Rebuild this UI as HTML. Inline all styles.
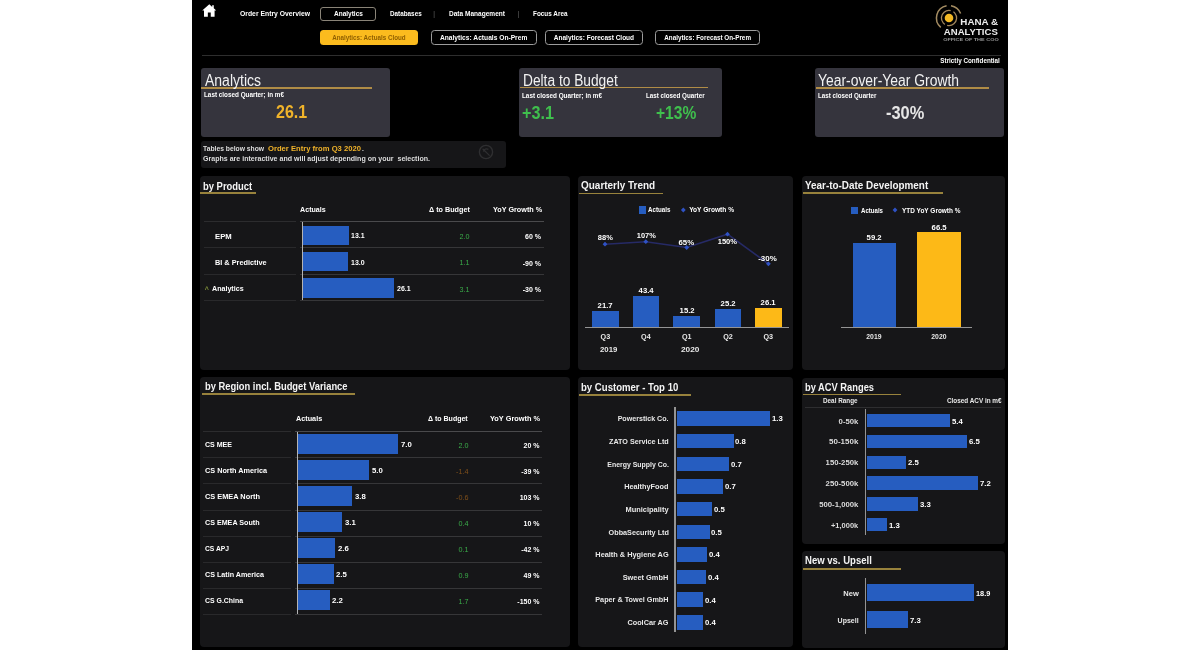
<!DOCTYPE html>
<html><head><meta charset="utf-8"><title>Analytics Dashboard</title>
<style>
html,body{margin:0;padding:0;background:#fff;}
body{width:1200px;height:650px;position:relative;overflow:hidden;font-family:"Liberation Sans", sans-serif;}
#d div,#d span,#d svg{position:absolute;}
#d span{white-space:pre;line-height:1;font-family:"Liberation Sans", sans-serif;}
#d{position:absolute;left:0;top:0;width:1200px;height:650px;filter:blur(0.75px);}
</style></head><body><div id="d">
<div style="left:192.0px;top:-20.0px;width:816.4px;height:710.0px;background:#000;border-radius:0px;"></div>
<svg style="left:201.8px;top:3.9px" width="14.6" height="13.5" viewBox="0 0 14 13"><path d="M7 0.3 L0.2 6.3 L1.9 6.3 L1.9 12.3 L5.6 12.3 L5.6 8.2 L8.4 8.2 L8.4 12.3 L12.1 12.3 L12.1 6.3 L13.8 6.3 L11.3 4.1 L11.3 1.2 L9.8 1.2 L9.8 2.8 Z" fill="#fff"/></svg>
<div style="left:320.0px;top:7.0px;width:56.0px;height:14.0px;background:transparent;border-radius:3px;border:1px solid #8a8478;box-sizing:border-box;"></div>
<div style="left:320.0px;top:30.3px;width:97.5px;height:14.4px;background:#fbbb1e;border-radius:3.5px;"></div>
<div style="left:431.3px;top:30.3px;width:105.4px;height:14.4px;background:transparent;border-radius:3.5px;border:1px solid #9c9c9c;box-sizing:border-box;"></div>
<div style="left:545.0px;top:30.3px;width:98.3px;height:14.4px;background:transparent;border-radius:3.5px;border:1px solid #9c9c9c;box-sizing:border-box;"></div>
<div style="left:655.0px;top:30.3px;width:104.7px;height:14.4px;background:transparent;border-radius:3.5px;border:1px solid #9c9c9c;box-sizing:border-box;"></div>
<div style="left:201.7px;top:54.9px;width:799.1px;height:0.9px;background:#2e2e2e;border-radius:0px;"></div>
<svg style="left:933.2px;top:2.1px" width="32" height="32" viewBox="-16 -16 32 32">
<circle cx="0" cy="0" r="4.3" fill="#f2b824"/>
<circle cx="0" cy="0" r="7.6" fill="none" stroke="#a2865a" stroke-width="1.3" stroke-dasharray="19 2.5 21 3" transform="rotate(-40)"/>
<path d="M -8.2 9.4 A 12.4 12.4 0 0 1 -2.4 -12.2" fill="none" stroke="#a48c62" stroke-width="1.5"/>
<path d="M 2 -12.3 A 12.4 12.4 0 0 1 11.6 -4.4" fill="none" stroke="#a48c62" stroke-width="1.5"/>
</svg>
<div style="left:200.9px;top:67.6px;width:189.1px;height:69.5px;background:#35343d;border-radius:3px;"></div>
<div style="left:518.6px;top:67.6px;width:203.8px;height:69.5px;background:#35343d;border-radius:3px;"></div>
<div style="left:815.0px;top:67.6px;width:188.8px;height:69.5px;background:#35343d;border-radius:3px;"></div>
<div style="left:201.4px;top:87.2px;width:170.6px;height:1.7px;background:#b08c46;border-radius:0px;"></div>
<div style="left:519.6px;top:86.5px;width:188.2px;height:1.7px;background:#b08c46;border-radius:0px;"></div>
<div style="left:816.3px;top:87.0px;width:172.5px;height:1.7px;background:#b08c46;border-radius:0px;"></div>
<div style="left:200.5px;top:140.6px;width:305.3px;height:27.0px;background:#161618;border-radius:3px;"></div>
<svg style="left:477.7px;top:144.4px" width="16" height="16" viewBox="-8 -8 16 16"><circle r="6.6" fill="none" stroke="#2f2f31" stroke-width="1.4"/><path d="M-3.4 -3.2 L3.6 3.6 M-2.6 -0.4 A 3.2 3.2 0 0 1 2.4 -2.6" stroke="#2f2f31" stroke-width="1.3" fill="none"/></svg>
<div style="left:200.4px;top:176.4px;width:369.6px;height:194.0px;background:#161618;border-radius:4px;"></div>
<div style="left:200.3px;top:192.1px;width:55.5px;height:1.7px;background:#98823c;border-radius:0px;"></div>
<div style="left:577.6px;top:176.0px;width:215.8px;height:194.4px;background:#161618;border-radius:4px;"></div>
<div style="left:579.0px;top:192.5px;width:83.5px;height:1.7px;background:#98823c;border-radius:0px;"></div>
<div style="left:802.0px;top:176.0px;width:202.8px;height:194.2px;background:#161618;border-radius:4px;"></div>
<div style="left:802.6px;top:192.2px;width:140.4px;height:1.7px;background:#98823c;border-radius:0px;"></div>
<div style="left:200.4px;top:376.6px;width:369.6px;height:270.6px;background:#161618;border-radius:4px;"></div>
<div style="left:201.7px;top:393.1px;width:153.3px;height:1.7px;background:#98823c;border-radius:0px;"></div>
<div style="left:578.4px;top:377.4px;width:215.0px;height:269.8px;background:#161618;border-radius:4px;"></div>
<div style="left:579.2px;top:394.1px;width:111.6px;height:1.7px;background:#98823c;border-radius:0px;"></div>
<div style="left:802.0px;top:377.8px;width:202.8px;height:166.0px;background:#161618;border-radius:4px;"></div>
<div style="left:803.0px;top:393.8px;width:97.8px;height:1.7px;background:#98823c;border-radius:0px;"></div>
<div style="left:802.0px;top:551.2px;width:202.8px;height:96.4px;background:#161618;border-radius:4px;"></div>
<div style="left:803.0px;top:567.9px;width:98.0px;height:1.7px;background:#98823c;border-radius:0px;"></div>
<div style="left:204.0px;top:221.2px;width:92.2px;height:1.0px;background:#2c2c2e;border-radius:0px;"></div>
<div style="left:300.2px;top:221.2px;width:243.8px;height:1.0px;background:#4a4a4c;border-radius:0px;"></div>
<div style="left:303.1px;top:225.7px;width:45.8px;height:19.6px;background:#265dc0;border-radius:0px;"></div>
<div style="left:204.0px;top:247.3px;width:92.2px;height:1.0px;background:#29292b;border-radius:0px;"></div>
<div style="left:300.2px;top:247.3px;width:243.8px;height:1.0px;background:#363638;border-radius:0px;"></div>
<div style="left:303.1px;top:251.8px;width:45.4px;height:19.6px;background:#265dc0;border-radius:0px;"></div>
<div style="left:204.0px;top:273.5px;width:92.2px;height:1.0px;background:#29292b;border-radius:0px;"></div>
<div style="left:300.2px;top:273.5px;width:243.8px;height:1.0px;background:#363638;border-radius:0px;"></div>
<div style="left:303.1px;top:278.0px;width:91.2px;height:19.6px;background:#265dc0;border-radius:0px;"></div>
<div style="left:204.0px;top:299.6px;width:92.2px;height:1.0px;background:#29292b;border-radius:0px;"></div>
<div style="left:300.2px;top:299.6px;width:243.8px;height:1.0px;background:#363638;border-radius:0px;"></div>
<div style="left:301.6px;top:221.7px;width:1.2px;height:78.4px;background:#b4b4b4;border-radius:0px;"></div>
<div style="left:203.0px;top:431.2px;width:88.3px;height:1.0px;background:#2c2c2e;border-radius:0px;"></div>
<div style="left:295.3px;top:431.2px;width:246.4px;height:1.0px;background:#4a4a4c;border-radius:0px;"></div>
<div style="left:298.2px;top:433.8px;width:99.8px;height:19.9px;background:#265dc0;border-radius:0px;"></div>
<div style="left:203.0px;top:457.3px;width:88.3px;height:1.0px;background:#29292b;border-radius:0px;"></div>
<div style="left:295.3px;top:457.3px;width:246.4px;height:1.0px;background:#363638;border-radius:0px;"></div>
<div style="left:298.2px;top:459.9px;width:71.2px;height:19.9px;background:#265dc0;border-radius:0px;"></div>
<div style="left:203.0px;top:483.4px;width:88.3px;height:1.0px;background:#29292b;border-radius:0px;"></div>
<div style="left:295.3px;top:483.4px;width:246.4px;height:1.0px;background:#363638;border-radius:0px;"></div>
<div style="left:298.2px;top:486.0px;width:54.1px;height:19.9px;background:#265dc0;border-radius:0px;"></div>
<div style="left:203.0px;top:509.5px;width:88.3px;height:1.0px;background:#29292b;border-radius:0px;"></div>
<div style="left:295.3px;top:509.5px;width:246.4px;height:1.0px;background:#363638;border-radius:0px;"></div>
<div style="left:298.2px;top:512.1px;width:44.2px;height:19.9px;background:#265dc0;border-radius:0px;"></div>
<div style="left:203.0px;top:535.6px;width:88.3px;height:1.0px;background:#29292b;border-radius:0px;"></div>
<div style="left:295.3px;top:535.6px;width:246.4px;height:1.0px;background:#363638;border-radius:0px;"></div>
<div style="left:298.2px;top:538.2px;width:37.1px;height:19.9px;background:#265dc0;border-radius:0px;"></div>
<div style="left:203.0px;top:561.7px;width:88.3px;height:1.0px;background:#29292b;border-radius:0px;"></div>
<div style="left:295.3px;top:561.7px;width:246.4px;height:1.0px;background:#363638;border-radius:0px;"></div>
<div style="left:298.2px;top:564.3px;width:35.6px;height:19.9px;background:#265dc0;border-radius:0px;"></div>
<div style="left:203.0px;top:587.8px;width:88.3px;height:1.0px;background:#29292b;border-radius:0px;"></div>
<div style="left:295.3px;top:587.8px;width:246.4px;height:1.0px;background:#363638;border-radius:0px;"></div>
<div style="left:298.2px;top:590.4px;width:31.4px;height:19.9px;background:#265dc0;border-radius:0px;"></div>
<div style="left:203.0px;top:613.9px;width:88.3px;height:1.0px;background:#29292b;border-radius:0px;"></div>
<div style="left:295.3px;top:613.9px;width:246.4px;height:1.0px;background:#363638;border-radius:0px;"></div>
<div style="left:296.7px;top:431.7px;width:1.2px;height:182.7px;background:#b4b4b4;border-radius:0px;"></div>
<div style="left:638.7px;top:206.3px;width:7.1px;height:7.4px;background:#265dc0;border-radius:0px;"></div>
<svg style="left:577px;top:176px" width="217" height="195" viewBox="577 176 217 195"><polyline points="605,244.2 645.8,241.7 686.7,247.5 727.5,234.2 768.4,263.8" fill="none" stroke="#262a66" stroke-width="1.6"/><path d="M605 241.79999999999998 L607.4 244.2 L605 246.6 L602.6 244.2 Z" fill="#2f52c4"/><path d="M645.8 239.29999999999998 L648.1999999999999 241.7 L645.8 244.1 L643.4 241.7 Z" fill="#2f52c4"/><path d="M686.7 245.1 L689.1 247.5 L686.7 249.9 L684.3000000000001 247.5 Z" fill="#2f52c4"/><path d="M727.5 231.79999999999998 L729.9 234.2 L727.5 236.6 L725.1 234.2 Z" fill="#2f52c4"/><path d="M768.4 261.40000000000003 L770.8 263.8 L768.4 266.2 L766.0 263.8 Z" fill="#2f52c4"/><path d="M683.3 207.6 L685.6999999999999 210 L683.3 212.4 L680.9 210 Z" fill="#2f52c4"/></svg>
<div style="left:592.0px;top:311.1px;width:26.9px;height:15.5px;background:#265dc0;border-radius:0px;"></div>
<div style="left:632.5px;top:295.5px;width:26.9px;height:31.1px;background:#265dc0;border-radius:0px;"></div>
<div style="left:673.3px;top:315.7px;width:26.9px;height:10.9px;background:#265dc0;border-radius:0px;"></div>
<div style="left:714.6px;top:308.6px;width:26.9px;height:18.0px;background:#265dc0;border-radius:0px;"></div>
<div style="left:754.8px;top:307.9px;width:26.9px;height:18.7px;background:#fdb917;border-radius:0px;"></div>
<div style="left:585.0px;top:326.5px;width:203.5px;height:1.3px;background:#949494;border-radius:0px;"></div>
<div style="left:851.0px;top:206.6px;width:6.8px;height:7.2px;background:#265dc0;border-radius:0px;"></div>
<svg style="left:892px;top:207px" width="6" height="6" viewBox="-3 -3 6 6"><path d="M0 -2.4 L2.4 0 L0 2.4 L-2.4 0 Z" fill="#2f52c4"/></svg>
<div style="left:852.5px;top:242.8px;width:43.5px;height:84.2px;background:#265dc0;border-radius:0px;"></div>
<div style="left:917.0px;top:232.3px;width:43.6px;height:94.7px;background:#fdb917;border-radius:0px;"></div>
<div style="left:841.0px;top:326.8px;width:130.7px;height:1.3px;background:#949494;border-radius:0px;"></div>
<div style="left:676.6px;top:411.2px;width:93.3px;height:14.6px;background:#265dc0;border-radius:0px;"></div>
<div style="left:676.6px;top:433.8px;width:57.0px;height:14.6px;background:#265dc0;border-radius:0px;"></div>
<div style="left:676.6px;top:456.5px;width:52.5px;height:14.6px;background:#265dc0;border-radius:0px;"></div>
<div style="left:676.6px;top:479.1px;width:46.3px;height:14.6px;background:#265dc0;border-radius:0px;"></div>
<div style="left:676.6px;top:501.8px;width:35.6px;height:14.6px;background:#265dc0;border-radius:0px;"></div>
<div style="left:676.6px;top:524.5px;width:33.0px;height:14.6px;background:#265dc0;border-radius:0px;"></div>
<div style="left:676.6px;top:547.1px;width:30.4px;height:14.6px;background:#265dc0;border-radius:0px;"></div>
<div style="left:676.6px;top:569.8px;width:29.6px;height:14.6px;background:#265dc0;border-radius:0px;"></div>
<div style="left:676.6px;top:592.4px;width:26.4px;height:14.6px;background:#265dc0;border-radius:0px;"></div>
<div style="left:676.6px;top:615.0px;width:26.4px;height:14.6px;background:#265dc0;border-radius:0px;"></div>
<div style="left:674.4px;top:407.4px;width:1.4px;height:224.9px;background:#949494;border-radius:0px;"></div>
<div style="left:805.0px;top:406.6px;width:196.0px;height:0.7px;background:#2e2e30;border-radius:0px;"></div>
<div style="left:867.0px;top:414.0px;width:83.4px;height:13.4px;background:#265dc0;border-radius:0px;"></div>
<div style="left:867.0px;top:434.8px;width:100.4px;height:13.4px;background:#265dc0;border-radius:0px;"></div>
<div style="left:867.0px;top:455.6px;width:38.6px;height:13.4px;background:#265dc0;border-radius:0px;"></div>
<div style="left:867.0px;top:476.4px;width:111.2px;height:13.4px;background:#265dc0;border-radius:0px;"></div>
<div style="left:867.0px;top:497.2px;width:51.0px;height:13.4px;background:#265dc0;border-radius:0px;"></div>
<div style="left:867.0px;top:518.0px;width:20.1px;height:13.4px;background:#265dc0;border-radius:0px;"></div>
<div style="left:864.6px;top:409.0px;width:1.4px;height:125.6px;background:#949494;border-radius:0px;"></div>
<div style="left:867.0px;top:584.2px;width:107.2px;height:17.3px;background:#265dc0;border-radius:0px;"></div>
<div style="left:867.0px;top:611.2px;width:41.4px;height:17.0px;background:#265dc0;border-radius:0px;"></div>
<div style="left:864.7px;top:578.4px;width:1.4px;height:55.4px;background:#949494;border-radius:0px;"></div>
<span style="left:240.00px;top:10.29px;font-size:7.4px;font-weight:700;color:#fff;transform:scaleX(0.9211);transform-origin:0 50%;">Order Entry Overview</span>
<span style="left:331.56px;top:10.29px;font-size:7.4px;font-weight:700;color:#fff;transform:scaleX(0.8821);transform-origin:50% 50%;">Analytics</span>
<span style="left:390.00px;top:10.29px;font-size:7.4px;font-weight:700;color:#fff;transform:scaleX(0.8571);transform-origin:0 50%;">Databases</span>
<span style="left:433.15px;top:10.72px;font-size:6.5px;font-weight:400;color:#6a6a6a;">|</span>
<span style="left:448.70px;top:10.29px;font-size:7.4px;font-weight:700;color:#fff;transform:scaleX(0.8854);transform-origin:0 50%;">Data Management</span>
<span style="left:517.45px;top:10.72px;font-size:6.5px;font-weight:400;color:#6a6a6a;">|</span>
<span style="left:533.00px;top:10.29px;font-size:7.4px;font-weight:700;color:#fff;transform:scaleX(0.8628);transform-origin:0 50%;">Focus Area</span>
<span style="left:328.69px;top:34.78px;font-size:6.8px;font-weight:700;color:#8f5f00;transform:scaleX(0.9207);transform-origin:50% 50%;">Analytics: Actuals Cloud</span>
<span style="left:439.37px;top:34.78px;font-size:6.8px;font-weight:700;color:#fff;transform:scaleX(0.9791);transform-origin:50% 50%;">Analytics: Actuals On-Prem</span>
<span style="left:552.22px;top:34.78px;font-size:6.8px;font-weight:700;color:#fff;transform:scaleX(0.9576);transform-origin:50% 50%;">Analytics: Forecast Cloud</span>
<span style="left:660.69px;top:34.78px;font-size:6.8px;font-weight:700;color:#fff;transform:scaleX(0.9291);transform-origin:50% 50%;">Analytics: Forecast On-Prem</span>
<span style="left:962.09px;top:17.01px;font-size:9.4px;font-weight:700;color:#ececec;transform:scaleX(1.0468);transform-origin:100% 50%;">HANA &amp;</span>
<span style="left:945.40px;top:26.81px;font-size:9.4px;font-weight:700;color:#ececec;transform:scaleX(1.0228);transform-origin:100% 50%;">ANALYTICS</span>
<span style="left:953.86px;top:38.05px;font-size:4.4px;font-weight:700;color:#9a9a9a;transform:scaleX(1.2433);transform-origin:100% 50%;">OFFICE OF THE COO</span>
<span style="left:929.46px;top:57.24px;font-size:7.5px;font-weight:700;color:#fff;transform:scaleX(0.8399);transform-origin:100% 50%;">Strictly Confidential</span>
<span style="left:205.00px;top:72.68px;font-size:16px;font-weight:400;color:#f2f2f2;transform:scaleX(0.8746);transform-origin:0 50%;">Analytics</span>
<span style="left:204.00px;top:92.17px;font-size:6.4px;font-weight:700;color:#fff;transform:scaleX(0.9922);transform-origin:0 50%;">Last closed Quarter; in m€</span>
<span style="left:276.00px;top:103.46px;font-size:18.5px;font-weight:700;color:#f0b32a;transform:scaleX(0.8663);transform-origin:0 50%;">26.1</span>
<span style="left:523.00px;top:72.68px;font-size:16px;font-weight:400;color:#f2f2f2;transform:scaleX(0.8586);transform-origin:0 50%;">Delta to Budget</span>
<span style="left:521.50px;top:92.57px;font-size:6.4px;font-weight:700;color:#fff;transform:scaleX(0.9922);transform-origin:0 50%;">Last closed Quarter; in m€</span>
<span style="left:646.00px;top:92.57px;font-size:6.4px;font-weight:700;color:#fff;transform:scaleX(0.9762);transform-origin:0 50%;">Last closed Quarter</span>
<span style="left:522.00px;top:104.65px;font-size:17.5px;font-weight:700;color:#3fbf4d;transform:scaleX(0.9259);transform-origin:0 50%;">+3.1</span>
<span style="left:655.70px;top:104.65px;font-size:17.5px;font-weight:700;color:#3fbf4d;transform:scaleX(0.8906);transform-origin:0 50%;">+13%</span>
<span style="left:818.20px;top:72.68px;font-size:16px;font-weight:400;color:#f2f2f2;transform:scaleX(0.8679);transform-origin:0 50%;">Year-over-Year Growth</span>
<span style="left:818.20px;top:92.57px;font-size:6.4px;font-weight:700;color:#fff;transform:scaleX(0.9745);transform-origin:0 50%;">Last closed Quarter</span>
<span style="left:886.30px;top:104.65px;font-size:17.5px;font-weight:700;color:#e6e6e6;transform:scaleX(0.9374);transform-origin:0 50%;">-30%</span>
<span style="left:202.50px;top:145.98px;font-size:6.6px;font-weight:700;color:#ddd;transform:scaleX(1.0254);transform-origin:0 50%;">Tables below show </span>
<span style="left:267.50px;top:145.98px;font-size:6.6px;font-weight:700;color:#f0b32a;transform:scaleX(1.1587);transform-origin:0 50%;">Order Entry from Q3 2020</span>
<span style="left:362.00px;top:145.98px;font-size:6.6px;font-weight:700;color:#ddd;">.</span>
<span style="left:202.50px;top:155.58px;font-size:6.6px;font-weight:700;color:#ddd;transform:scaleX(1.0700);transform-origin:0 50%;">Graphs are interactive and will adjust depending on your  selection.</span>
<span style="left:202.50px;top:180.62px;font-size:10.6px;font-weight:700;color:#f4f4f4;transform:scaleX(0.8892);transform-origin:0 50%;">by Product</span>
<span style="left:580.80px;top:180.22px;font-size:10.6px;font-weight:700;color:#f4f4f4;transform:scaleX(0.9405);transform-origin:0 50%;">Quarterly Trend</span>
<span style="left:805.30px;top:180.22px;font-size:10.6px;font-weight:700;color:#f4f4f4;transform:scaleX(0.9342);transform-origin:0 50%;">Year-to-Date Development</span>
<span style="left:205.00px;top:380.82px;font-size:10.6px;font-weight:700;color:#f4f4f4;transform:scaleX(0.8835);transform-origin:0 50%;">by Region incl. Budget Variance</span>
<span style="left:581.00px;top:381.62px;font-size:10.6px;font-weight:700;color:#f4f4f4;transform:scaleX(0.9049);transform-origin:0 50%;">by Customer - Top 10</span>
<span style="left:805.00px;top:382.02px;font-size:10.6px;font-weight:700;color:#f4f4f4;transform:scaleX(0.8790);transform-origin:0 50%;">by ACV Ranges</span>
<span style="left:805.00px;top:555.42px;font-size:10.6px;font-weight:700;color:#f4f4f4;transform:scaleX(0.9004);transform-origin:0 50%;">New vs. Upsell</span>
<span style="left:300.00px;top:207.38px;font-size:6.6px;font-weight:700;color:#fff;transform:scaleX(1.0828);transform-origin:0 50%;">Actuals</span>
<span style="left:429.20px;top:207.38px;font-size:6.6px;font-weight:700;color:#fff;transform:scaleX(1.0926);transform-origin:0 50%;">Δ to Budget</span>
<span style="left:492.50px;top:207.38px;font-size:6.6px;font-weight:700;color:#fff;transform:scaleX(1.0975);transform-origin:0 50%;">YoY Growth %</span>
<span style="left:215.00px;top:233.58px;font-size:6.6px;font-weight:700;color:#fff;transform:scaleX(1.1681);transform-origin:0 50%;">EPM</span>
<span style="left:351.48px;top:233.48px;font-size:6.8px;font-weight:700;color:#fff;transform:scaleX(1.0276);transform-origin:0 50%;">13.1</span>
<span style="left:459.50px;top:233.28px;font-size:7.2px;font-weight:400;color:#3aac49;">2.0</span>
<span style="left:525.03px;top:233.38px;font-size:7.0px;font-weight:700;color:#fff;">60 %</span>
<span style="left:215.00px;top:259.73px;font-size:6.6px;font-weight:700;color:#fff;transform:scaleX(1.1107);transform-origin:0 50%;">BI &amp; Predictive</span>
<span style="left:351.13px;top:259.63px;font-size:6.8px;font-weight:700;color:#fff;transform:scaleX(1.0276);transform-origin:0 50%;">13.0</span>
<span style="left:459.50px;top:259.43px;font-size:7.2px;font-weight:400;color:#3aac49;">1.1</span>
<span style="left:522.70px;top:259.53px;font-size:7.0px;font-weight:700;color:#fff;">-90 %</span>
<span style="left:211.70px;top:285.88px;font-size:6.6px;font-weight:700;color:#fff;transform:scaleX(1.0775);transform-origin:0 50%;">Analytics</span>
<span style="left:396.92px;top:285.78px;font-size:6.8px;font-weight:700;color:#fff;transform:scaleX(1.0276);transform-origin:0 50%;">26.1</span>
<span style="left:459.50px;top:285.58px;font-size:7.2px;font-weight:400;color:#3aac49;">3.1</span>
<span style="left:522.70px;top:285.68px;font-size:7.0px;font-weight:700;color:#fff;">-30 %</span>
<span style="left:204.75px;top:286.18px;font-size:7px;font-weight:700;color:#7f8f3a;">^</span>
<span style="left:296.30px;top:416.18px;font-size:6.6px;font-weight:700;color:#fff;transform:scaleX(1.0995);transform-origin:0 50%;">Actuals</span>
<span style="left:428.30px;top:416.18px;font-size:6.6px;font-weight:700;color:#fff;transform:scaleX(1.0631);transform-origin:0 50%;">Δ to Budget</span>
<span style="left:490.00px;top:416.18px;font-size:6.6px;font-weight:700;color:#fff;transform:scaleX(1.1154);transform-origin:0 50%;">YoY Growth %</span>
<span style="left:204.70px;top:441.83px;font-size:6.6px;font-weight:700;color:#fff;transform:scaleX(1.0680);transform-origin:0 50%;">CS MEE</span>
<span style="left:400.55px;top:441.73px;font-size:6.8px;font-weight:700;color:#fff;transform:scaleX(1.1425);transform-origin:0 50%;">7.0</span>
<span style="left:458.50px;top:441.53px;font-size:7.2px;font-weight:400;color:#3aac49;">2.0</span>
<span style="left:523.53px;top:441.63px;font-size:7.0px;font-weight:700;color:#fff;">20 %</span>
<span style="left:204.70px;top:467.93px;font-size:6.6px;font-weight:700;color:#fff;transform:scaleX(1.1034);transform-origin:0 50%;">CS North America</span>
<span style="left:372.05px;top:467.83px;font-size:6.8px;font-weight:700;color:#fff;transform:scaleX(1.1425);transform-origin:0 50%;">5.0</span>
<span style="left:456.11px;top:467.63px;font-size:7.2px;font-weight:400;color:#80501a;">-1.4</span>
<span style="left:521.20px;top:467.73px;font-size:7.0px;font-weight:700;color:#fff;">-39 %</span>
<span style="left:204.70px;top:494.03px;font-size:6.6px;font-weight:700;color:#fff;transform:scaleX(1.1175);transform-origin:0 50%;">CS EMEA North</span>
<span style="left:354.95px;top:493.93px;font-size:6.8px;font-weight:700;color:#fff;transform:scaleX(1.1425);transform-origin:0 50%;">3.8</span>
<span style="left:456.11px;top:493.73px;font-size:7.2px;font-weight:400;color:#80501a;">-0.6</span>
<span style="left:519.64px;top:493.83px;font-size:7.0px;font-weight:700;color:#fff;">103 %</span>
<span style="left:204.70px;top:520.13px;font-size:6.6px;font-weight:700;color:#fff;transform:scaleX(1.0832);transform-origin:0 50%;">CS EMEA South</span>
<span style="left:344.98px;top:520.03px;font-size:6.8px;font-weight:700;color:#fff;transform:scaleX(1.1425);transform-origin:0 50%;">3.1</span>
<span style="left:458.50px;top:519.83px;font-size:7.2px;font-weight:400;color:#3aac49;">0.4</span>
<span style="left:523.53px;top:519.93px;font-size:7.0px;font-weight:700;color:#fff;">10 %</span>
<span style="left:204.70px;top:546.23px;font-size:6.6px;font-weight:700;color:#fff;transform:scaleX(1.0179);transform-origin:0 50%;">CS APJ</span>
<span style="left:337.85px;top:546.13px;font-size:6.8px;font-weight:700;color:#fff;transform:scaleX(1.1425);transform-origin:0 50%;">2.6</span>
<span style="left:458.50px;top:545.93px;font-size:7.2px;font-weight:400;color:#3aac49;">0.1</span>
<span style="left:521.20px;top:546.03px;font-size:7.0px;font-weight:700;color:#fff;">-42 %</span>
<span style="left:204.70px;top:572.33px;font-size:6.6px;font-weight:700;color:#fff;transform:scaleX(1.0854);transform-origin:0 50%;">CS Latin America</span>
<span style="left:336.43px;top:572.23px;font-size:6.8px;font-weight:700;color:#fff;transform:scaleX(1.1425);transform-origin:0 50%;">2.5</span>
<span style="left:458.50px;top:572.03px;font-size:7.2px;font-weight:400;color:#3aac49;">0.9</span>
<span style="left:523.53px;top:572.13px;font-size:7.0px;font-weight:700;color:#fff;">49 %</span>
<span style="left:204.70px;top:598.43px;font-size:6.6px;font-weight:700;color:#fff;transform:scaleX(1.0474);transform-origin:0 50%;">CS G.China</span>
<span style="left:332.15px;top:598.33px;font-size:6.8px;font-weight:700;color:#fff;transform:scaleX(1.1425);transform-origin:0 50%;">2.2</span>
<span style="left:458.50px;top:598.13px;font-size:7.2px;font-weight:400;color:#3aac49;">1.7</span>
<span style="left:517.31px;top:598.23px;font-size:7.0px;font-weight:700;color:#fff;">-150 %</span>
<span style="left:648.30px;top:207.48px;font-size:6.6px;font-weight:700;color:#fff;transform:scaleX(0.9443);transform-origin:0 50%;">Actuals</span>
<span style="left:689.20px;top:207.48px;font-size:6.6px;font-weight:700;color:#fff;">YoY Growth %</span>
<span style="left:597.70px;top:234.43px;font-size:7.3px;font-weight:700;color:#fff;transform:scaleX(1.0267);transform-origin:50% 50%;">88%</span>
<span style="left:636.96px;top:232.03px;font-size:7.3px;font-weight:700;color:#fff;transform:scaleX(1.0176);transform-origin:50% 50%;">107%</span>
<span style="left:679.00px;top:238.83px;font-size:7.3px;font-weight:700;color:#fff;transform:scaleX(1.0678);transform-origin:50% 50%;">65%</span>
<span style="left:718.36px;top:238.03px;font-size:7.3px;font-weight:700;color:#fff;transform:scaleX(1.0336);transform-origin:50% 50%;">150%</span>
<span style="left:759.08px;top:254.53px;font-size:7.3px;font-weight:700;color:#fff;transform:scaleX(1.0911);transform-origin:50% 50%;">-30%</span>
<span style="left:598.30px;top:302.10px;font-size:7.3px;font-weight:700;color:#fff;transform:scaleX(1.0561);transform-origin:50% 50%;">21.7</span>
<span style="left:600.60px;top:332.98px;font-size:7.2px;font-weight:700;color:#e8e8e8;">Q3</span>
<span style="left:638.80px;top:286.56px;font-size:7.3px;font-weight:700;color:#fff;transform:scaleX(1.0561);transform-origin:50% 50%;">43.4</span>
<span style="left:641.10px;top:332.98px;font-size:7.2px;font-weight:700;color:#e8e8e8;">Q4</span>
<span style="left:679.60px;top:306.75px;font-size:7.3px;font-weight:700;color:#fff;transform:scaleX(1.0561);transform-origin:50% 50%;">15.2</span>
<span style="left:681.90px;top:332.98px;font-size:7.2px;font-weight:700;color:#e8e8e8;">Q1</span>
<span style="left:720.90px;top:299.59px;font-size:7.3px;font-weight:700;color:#fff;transform:scaleX(1.0561);transform-origin:50% 50%;">25.2</span>
<span style="left:723.20px;top:332.98px;font-size:7.2px;font-weight:700;color:#e8e8e8;">Q2</span>
<span style="left:761.10px;top:298.95px;font-size:7.3px;font-weight:700;color:#fff;transform:scaleX(1.0561);transform-origin:50% 50%;">26.1</span>
<span style="left:763.40px;top:332.98px;font-size:7.2px;font-weight:700;color:#e8e8e8;">Q3</span>
<span style="left:599.70px;top:346.58px;font-size:6.8px;font-weight:700;color:#e8e8e8;transform:scaleX(1.1438);transform-origin:0 50%;">2019</span>
<span style="left:681.00px;top:346.58px;font-size:6.8px;font-weight:700;color:#e8e8e8;transform:scaleX(1.2165);transform-origin:0 50%;">2020</span>
<span style="left:860.50px;top:207.68px;font-size:6.6px;font-weight:700;color:#fff;transform:scaleX(0.9233);transform-origin:0 50%;">Actuals</span>
<span style="left:901.70px;top:207.68px;font-size:6.6px;font-weight:700;color:#fff;transform:scaleX(0.9796);transform-origin:0 50%;">YTD YoY Growth %</span>
<span style="left:866.70px;top:234.03px;font-size:7.3px;font-weight:700;color:#fff;transform:scaleX(1.0561);transform-origin:50% 50%;">59.2</span>
<span style="left:931.80px;top:223.93px;font-size:7.3px;font-weight:700;color:#fff;transform:scaleX(1.0561);transform-origin:50% 50%;">66.5</span>
<span style="left:866.34px;top:333.78px;font-size:6.8px;font-weight:700;color:#e8e8e8;">2019</span>
<span style="left:931.34px;top:333.78px;font-size:6.8px;font-weight:700;color:#e8e8e8;">2020</span>
<span style="left:617.17px;top:415.28px;font-size:7.2px;font-weight:700;color:#e8e8e8;transform:scaleX(0.9878);transform-origin:100% 50%;">Powerstick Co.</span>
<span style="left:771.70px;top:415.48px;font-size:7.2px;font-weight:700;color:#fff;transform:scaleX(1.0800);transform-origin:0 50%;">1.3</span>
<span style="left:609.04px;top:437.93px;font-size:7.2px;font-weight:700;color:#e8e8e8;">ZATO Service Ltd</span>
<span style="left:735.40px;top:438.13px;font-size:7.2px;font-weight:700;color:#fff;transform:scaleX(1.0800);transform-origin:0 50%;">0.8</span>
<span style="left:604.79px;top:460.58px;font-size:7.2px;font-weight:700;color:#e8e8e8;transform:scaleX(0.9639);transform-origin:100% 50%;">Energy Supply Co.</span>
<span style="left:730.90px;top:460.78px;font-size:7.2px;font-weight:700;color:#fff;transform:scaleX(1.0800);transform-origin:0 50%;">0.7</span>
<span style="left:625.17px;top:483.23px;font-size:7.2px;font-weight:700;color:#e8e8e8;transform:scaleX(1.0200);transform-origin:100% 50%;">HealthyFood</span>
<span style="left:724.70px;top:483.43px;font-size:7.2px;font-weight:700;color:#fff;transform:scaleX(1.0800);transform-origin:0 50%;">0.7</span>
<span style="left:627.15px;top:505.88px;font-size:7.2px;font-weight:700;color:#e8e8e8;transform:scaleX(1.0374);transform-origin:100% 50%;">Municipality</span>
<span style="left:714.00px;top:506.08px;font-size:7.2px;font-weight:700;color:#fff;transform:scaleX(1.0800);transform-origin:0 50%;">0.5</span>
<span style="left:608.79px;top:528.53px;font-size:7.2px;font-weight:700;color:#e8e8e8;transform:scaleX(1.0066);transform-origin:100% 50%;">ObbaSecurity Ltd</span>
<span style="left:711.40px;top:528.73px;font-size:7.2px;font-weight:700;color:#fff;transform:scaleX(1.0800);transform-origin:0 50%;">0.5</span>
<span style="left:597.08px;top:551.18px;font-size:7.2px;font-weight:700;color:#e8e8e8;transform:scaleX(1.0234);transform-origin:100% 50%;">Health &amp; Hygiene AG</span>
<span style="left:708.80px;top:551.38px;font-size:7.2px;font-weight:700;color:#fff;transform:scaleX(1.0800);transform-origin:0 50%;">0.4</span>
<span style="left:624.36px;top:573.83px;font-size:7.2px;font-weight:700;color:#e8e8e8;transform:scaleX(1.0306);transform-origin:100% 50%;">Sweet GmbH</span>
<span style="left:708.00px;top:574.03px;font-size:7.2px;font-weight:700;color:#fff;transform:scaleX(1.0800);transform-origin:0 50%;">0.4</span>
<span style="left:596.14px;top:596.48px;font-size:7.2px;font-weight:700;color:#e8e8e8;transform:scaleX(1.0102);transform-origin:100% 50%;">Paper &amp; Towel GmbH</span>
<span style="left:704.80px;top:596.68px;font-size:7.2px;font-weight:700;color:#fff;transform:scaleX(1.0800);transform-origin:0 50%;">0.4</span>
<span style="left:628.23px;top:619.13px;font-size:7.2px;font-weight:700;color:#e8e8e8;transform:scaleX(1.0131);transform-origin:100% 50%;">CoolCar AG</span>
<span style="left:704.80px;top:619.33px;font-size:7.2px;font-weight:700;color:#fff;transform:scaleX(1.0800);transform-origin:0 50%;">0.4</span>
<span style="left:823.00px;top:398.08px;font-size:6.6px;font-weight:700;color:#e8e8e8;transform:scaleX(0.9632);transform-origin:0 50%;">Deal Range</span>
<span style="left:944.85px;top:398.08px;font-size:6.6px;font-weight:700;color:#e8e8e8;transform:scaleX(0.9656);transform-origin:100% 50%;">Closed ACV in m€</span>
<span style="left:840.21px;top:417.58px;font-size:7.2px;font-weight:700;color:#dcdcdc;transform:scaleX(1.0766);transform-origin:100% 50%;">0-50k</span>
<span style="left:952.38px;top:417.58px;font-size:7.2px;font-weight:700;color:#fff;transform:scaleX(1.0800);transform-origin:0 50%;">5.4</span>
<span style="left:832.21px;top:438.38px;font-size:7.2px;font-weight:700;color:#dcdcdc;transform:scaleX(1.1102);transform-origin:100% 50%;">50-150k</span>
<span style="left:969.36px;top:438.38px;font-size:7.2px;font-weight:700;color:#fff;transform:scaleX(1.0800);transform-origin:0 50%;">6.5</span>
<span style="left:828.23px;top:459.18px;font-size:7.2px;font-weight:700;color:#dcdcdc;transform:scaleX(1.0798);transform-origin:100% 50%;">150-250k</span>
<span style="left:907.60px;top:459.18px;font-size:7.2px;font-weight:700;color:#fff;transform:scaleX(1.0800);transform-origin:0 50%;">2.5</span>
<span style="left:828.23px;top:479.98px;font-size:7.2px;font-weight:700;color:#dcdcdc;transform:scaleX(1.0798);transform-origin:100% 50%;">250-500k</span>
<span style="left:980.17px;top:479.98px;font-size:7.2px;font-weight:700;color:#fff;transform:scaleX(1.0800);transform-origin:0 50%;">7.2</span>
<span style="left:822.23px;top:500.78px;font-size:7.2px;font-weight:700;color:#dcdcdc;transform:scaleX(1.0777);transform-origin:100% 50%;">500-1,000k</span>
<span style="left:919.95px;top:500.78px;font-size:7.2px;font-weight:700;color:#fff;transform:scaleX(1.0800);transform-origin:0 50%;">3.3</span>
<span style="left:832.41px;top:521.58px;font-size:7.2px;font-weight:700;color:#dcdcdc;transform:scaleX(1.0387);transform-origin:100% 50%;">+1,000k</span>
<span style="left:889.07px;top:521.58px;font-size:7.2px;font-weight:700;color:#fff;transform:scaleX(1.0800);transform-origin:0 50%;">1.3</span>
<span style="left:844.12px;top:589.73px;font-size:7.2px;font-weight:700;color:#e8e8e8;transform:scaleX(1.0486);transform-origin:100% 50%;">New</span>
<span style="left:976.16px;top:589.73px;font-size:7.2px;font-weight:700;color:#fff;transform:scaleX(1.0214);transform-origin:0 50%;">18.9</span>
<span style="left:837.32px;top:616.58px;font-size:7.2px;font-weight:700;color:#e8e8e8;transform:scaleX(0.9732);transform-origin:100% 50%;">Upsell</span>
<span style="left:910.39px;top:616.58px;font-size:7.2px;font-weight:700;color:#fff;transform:scaleX(1.0800);transform-origin:0 50%;">7.3</span>
</div></body></html>
